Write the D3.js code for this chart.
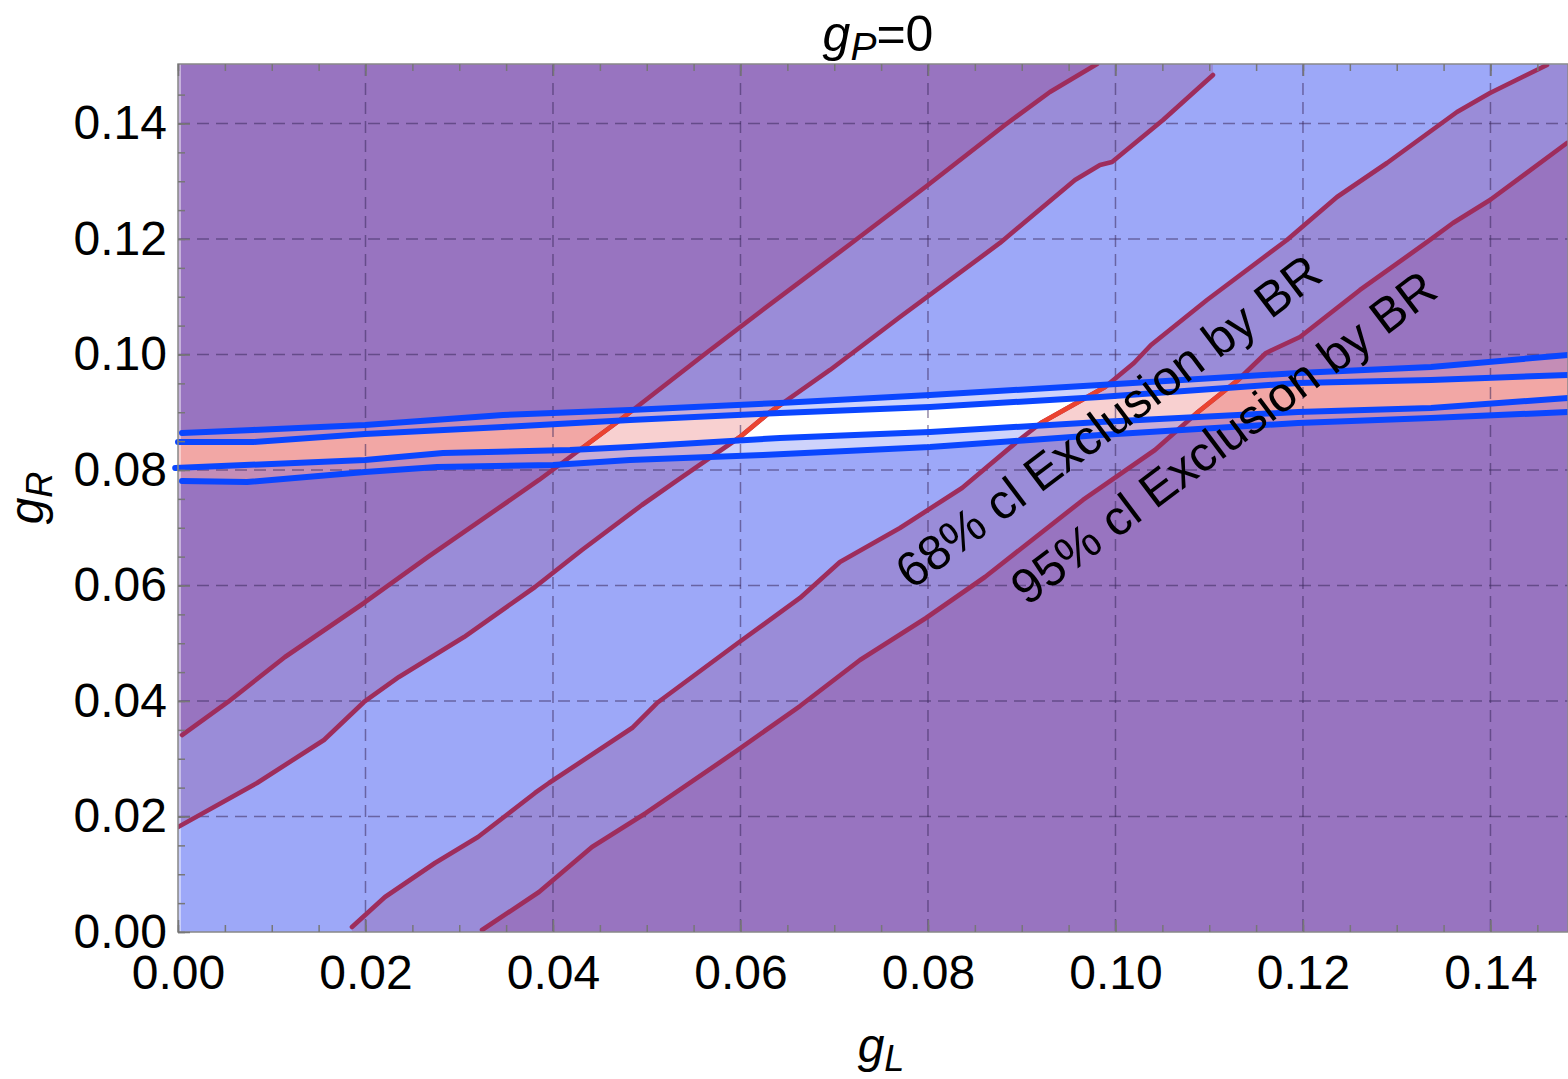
<!DOCTYPE html>
<html>
<head>
<meta charset="utf-8">
<script src="https://cdn.jsdelivr.net/npm/d3@7"></script>
<style>
  body { margin: 0; background: #fff; }
  text { font-family: "Liberation Sans", Arial, sans-serif; }
</style>
</head>
<body>
<div id="chart"></div>
<script>
// contour lines of the BR exclusion (gL, gR)
var br95Left = [[0.00043,0.03411],[0.00533,0.03983],[0.01141,0.04762],[0.01984,0.05697],[0.02667,0.06494],
  [0.03851,0.07827],[0.04715,0.08866],[0.05621,0.10009],[0.06208,0.10736],[0.0720,0.11948],[0.0800,0.12935],
  [0.08821,0.13974],[0.09301,0.14545],[0.09803,0.1503]];
var br68Left = [[0,0.01818],[0.00843,0.0258],[0.01557,0.03325],[0.01984,0.03983],[0.02357,0.04416],[0.03051,0.05108],
  [0.03808,0.05974],[0.04309,0.06615],[0.04949,0.07394],[0.05333,0.07827],[0.05995,0.08571],[0.06315,0.09004],
  [0.06955,0.09732],[0.07701,0.10649],[0.08768,0.11931],[0.09568,0.13022],[0.09835,0.13281],[0.09963,0.13333],
  [0.10507,0.14061],[0.1104,0.1484]];
var br68Right = [[0.01856,0.00087],[0.02208,0.00606],[0.02741,0.01195],[0.032,0.01645],[0.03808,0.02407],[0.03957,0.0258],
  [0.04843,0.03532],[0.05109,0.03965],[0.05973,0.05004],[0.06635,0.05784],[0.07061,0.06407],[0.07701,0.06996],
  [0.08363,0.07688],[0.08971,0.08519],[0.09205,0.08814],[0.09888,0.09437],[0.10197,0.09853],[0.10379,0.10165],
  [0.10976,0.10944],[0.11829,0.11983],[0.12363,0.12727],[0.12896,0.13316],[0.13643,0.14199],[0.13995,0.14528],
  [0.14603,0.15013]];
var br95Right = [[0.03243,0.00035],[0.03851,0.00693],[0.04416,0.01472],[0.04992,0.02061],[0.05973,0.03152],[0.06635,0.03913],
  [0.07275,0.0471],[0.07979,0.05437],[0.08608,0.06147],[0.09653,0.07481],[0.10421,0.08346],[0.1088,0.09004],
  [0.11307,0.09558],[0.11605,0.10026],[0.11968,0.10303],[0.12608,0.11117],[0.13355,0.11983],[0.136,0.12277],
  [0.13995,0.12675],[0.14816,0.13662]];

// gR band from the other measurement (blue contours)
var gROuterHi = [[0.00043,0.08641],[0.008,0.08693],[0.01995,0.08779],[0.03467,0.08952],[0.04821,0.09039],[0.06421,0.0916],
  [0.08021,0.09299],[0.09835,0.09472],[0.11947,0.0968],[0.13365,0.09784],[0.14827,0.09991]];
var gRInnerHi = [[0,0.08485],[0.008,0.08485],[0.01995,0.08623],[0.03467,0.08745],[0.04821,0.08866],[0.06421,0.08987],
  [0.08021,0.09091],[0.09835,0.09264],[0.11947,0.09506],[0.13365,0.09558],[0.14827,0.09645]];
var gRInnerLo = [[-0.0003,0.08035],[0.01995,0.08173],[0.02827,0.08294],[0.04181,0.08346],[0.04821,0.08398],[0.06421,0.08554],
  [0.08021,0.08658],[0.09835,0.08831],[0.11947,0.09004],[0.13365,0.09074],[0.14827,0.09247]];
var gROuterLo = [[0.00043,0.0781],[0.00736,0.07792],[0.01995,0.07965],[0.02763,0.08052],[0.04,0.08087],[0.04821,0.08173],
  [0.0624,0.0826],[0.08021,0.08398],[0.09835,0.08606],[0.11947,0.08814],[0.13365,0.089],[0.14827,0.09004]];

var majorTicks = [0, 0.02, 0.04, 0.06, 0.08, 0.10, 0.12, 0.14];
var minorTicks = d3.range(0, 0.1501, 0.005);
var labels = ["68% cl Exclusion by BR", "95% cl Exclusion by BR"];

var W = 1568, H = 1079;
var mLeft = 178, mRight = 1568, mTop = 64, mBottom = 932;

var x = d3.scaleLinear().domain([0, 0.14827]).range([mLeft, mRight]);
var y = d3.scaleLinear().domain([0, 0.1503]).range([mBottom, mTop]);

var svg = d3.select("#chart").append("svg")
    .attr("width", W)
    .attr("height", H);

var line = d3.line().x(function(d) { return x(d[0]); }).y(function(d) { return y(d[1]); });

// polygon between a curve leaving through the top and one leaving through the right
var diagBand = function(up, low) {
    var pts = [[-0.01, up[0][1]]].concat(up);
    pts.push([up[up.length-1][0], 0.2], [0.2, 0.2], [0.2, low[low.length-1][1]]);
    pts = pts.concat(low.slice().reverse());
    pts.push([low[0][0], -0.01], [-0.01, -0.01]);
    return pts;
};
var flatBand = function(up, low) {
    var pts = [[-0.01, up[0][1]]].concat(up);
    pts.push([0.2, up[up.length-1][1]], [0.2, low[low.length-1][1]]);
    pts = pts.concat(low.slice().reverse());
    pts.push([-0.01, low[0][1]]);
    return pts;
};

var p95 = diagBand(br95Left, br95Right);
var p68 = diagBand(br68Left, br68Right);
var hOut = flatBand(gROuterHi, gROuterLo);
var hIn = flatBand(gRInnerHi, gRInnerLo);
var redZone = flatBand(gROuterHi, gRInnerLo);

var defs = svg.append("defs");
defs.append("clipPath").attr("id", "plotClip").append("rect")
    .attr("x", mLeft).attr("y", mTop).attr("width", mRight - mLeft).attr("height", mBottom - mTop);
defs.append("clipPath").attr("id", "hOutClip").append("path").attr("d", line(hOut) + "Z");
defs.append("clipPath").attr("id", "hInClip").append("path").attr("d", line(hIn) + "Z");
defs.append("clipPath").attr("id", "redClip").append("path").attr("d", line(redZone) + "Z");

var plot = svg.append("g").attr("clip-path", "url(#plotClip)");

// three tint levels of the gR band, each with the three BR regions
var levels = [
    { clip: null, colors: ["#9874c0", "#9a8cd8", "#9da8f8"] },
    { clip: "url(#hOutClip)", colors: ["#c48db6", "#c9aed6", "#ced3fb"] },
    { clip: "url(#hInClip)", colors: ["#f2a7a5", "#f8d0d0", "#ffffff"] }
];
levels.forEach(function(lv) {
    var g = plot.append("g");
    if (lv.clip) g.attr("clip-path", lv.clip);
    g.append("rect").attr("x", mLeft).attr("y", mTop).attr("width", mRight - mLeft).attr("height", mBottom - mTop)
        .attr("fill", lv.colors[0]);
    g.append("path").attr("d", line(p95) + "Z").attr("fill", lv.colors[1]);
    g.append("path").attr("d", line(p68) + "Z").attr("fill", lv.colors[2]);
});

// light edge strip at the left border
plot.append("rect").attr("x", mLeft).attr("y", mTop).attr("width", 3).attr("height", mBottom - mTop)
    .attr("fill", "#ffffff").attr("opacity", 0.45);

// dashed grid
var grid = plot.append("g")
    .attr("stroke", "#3c2a5c")
    .attr("stroke-opacity", 0.55)
    .attr("stroke-width", 1.5)
    .attr("stroke-dasharray", "12,7");
grid.selectAll(".gx").data(majorTicks.slice(1)).enter().append("line")
    .attr("x1", function(d) { return x(d); }).attr("x2", function(d) { return x(d); })
    .attr("y1", mTop).attr("y2", mBottom);
grid.selectAll(".gy").data(majorTicks.slice(1)).enter().append("line")
    .attr("y1", function(d) { return y(d); }).attr("y2", function(d) { return y(d); })
    .attr("x1", mLeft).attr("x2", mRight);

// BR contours
var brLines = [br95Left, br68Left, br68Right, br95Right];
plot.selectAll(".brLine").data(brLines).enter().append("path")
    .attr("class", "brLine")
    .attr("d", line)
    .attr("fill", "none")
    .attr("stroke", "#9e2d5c")
    .attr("stroke-width", 4.6)
    .attr("stroke-linecap", "round")
    .attr("stroke-linejoin", "round");
plot.append("g").attr("clip-path", "url(#redClip)")
    .selectAll(".brRed").data(brLines).enter().append("path")
    .attr("d", line)
    .attr("fill", "none")
    .attr("stroke", "#ea4330")
    .attr("stroke-width", 4.6);

// gR band contours
svg.append("g").selectAll(".gRLine").data([gROuterHi, gRInnerHi, gRInnerLo, gROuterLo]).enter().append("path")
    .attr("d", line)
    .attr("fill", "none")
    .attr("stroke", "#0a46ff")
    .attr("stroke-width", 6)
    .attr("stroke-linecap", "round")
    .attr("stroke-linejoin", "round");

// frame
svg.append("rect").attr("x", mLeft).attr("y", mTop).attr("width", mRight - mLeft).attr("height", mBottom - mTop)
    .attr("fill", "none").attr("stroke", "#888").attr("stroke-width", 1.5);

// axes: minor ticks then major ticks with labels
var fmt = d3.format(".2f");
var styleAxis = function(g) {
    g.select(".domain").remove();
    g.selectAll(".tick line").attr("stroke", "#777").attr("stroke-width", 1.5);
    g.selectAll(".tick text").attr("fill", "#000").style("font-size", "48px")
        .style("font-family", "'Liberation Sans', Arial, sans-serif");
};
var axes = [
    { ax: d3.axisBottom(x), tr: "translate(0," + mBottom + ")", vals: true, pad: 23 },
    { ax: d3.axisTop(x), tr: "translate(0," + mTop + ")", vals: false, pad: 3 },
    { ax: d3.axisLeft(y), tr: "translate(" + mLeft + ",0)", vals: true, pad: 11 }
];
axes.forEach(function(a) {
    svg.append("g").attr("transform", a.tr)
        .call(a.ax.tickValues(minorTicks.filter(function(v) { return v <= 0.1483; })).tickSize(-7).tickFormat(""))
        .call(styleAxis);
    svg.append("g").attr("transform", a.tr)
        .call(a.ax.tickValues(majorTicks).tickSize(-12).tickPadding(a.pad)
            .tickFormat(a.vals ? fmt : ""))
        .call(styleAxis);
});

// title and axis titles
var title = svg.append("text").attr("x", 878).attr("y", 51).attr("text-anchor", "middle")
    .style("font-size", "50px");
title.append("tspan").style("font-style", "italic").text("g");
title.append("tspan").style("font-style", "italic").style("font-size", "39px").attr("dy", 9).text("P");
title.append("tspan").attr("dy", -9).text("=0");

var xt = svg.append("text").attr("x", 881).attr("y", 1062).attr("text-anchor", "middle")
    .style("font-size", "48px");
xt.append("tspan").style("font-style", "italic").text("g");
xt.append("tspan").style("font-style", "italic").style("font-size", "36px").attr("dy", 9).text("L");

var yt = svg.append("text").attr("transform", "translate(43,498) rotate(-90)").attr("text-anchor", "middle")
    .style("font-size", "48px");
yt.append("tspan").style("font-style", "italic").text("g");
yt.append("tspan").style("font-style", "italic").style("font-size", "36px").attr("dy", 9).text("R");

// rotated region labels
var labelPos = [[0.1003, 0.0861], [0.1126, 0.0833]];
svg.selectAll(".regionLabel").data(labels).enter().append("text")
    .attr("class", "regionLabel")
    .attr("text-anchor", "middle")
    .attr("transform", function(d, i) {
        return "translate(" + x(labelPos[i][0]) + "," + y(labelPos[i][1]) + ") rotate(-37)";
    })
    .style("font-size", "49px")
    .attr("fill", "#000")
    .text(function(d) { return d; });
</script>
</body>
</html>
